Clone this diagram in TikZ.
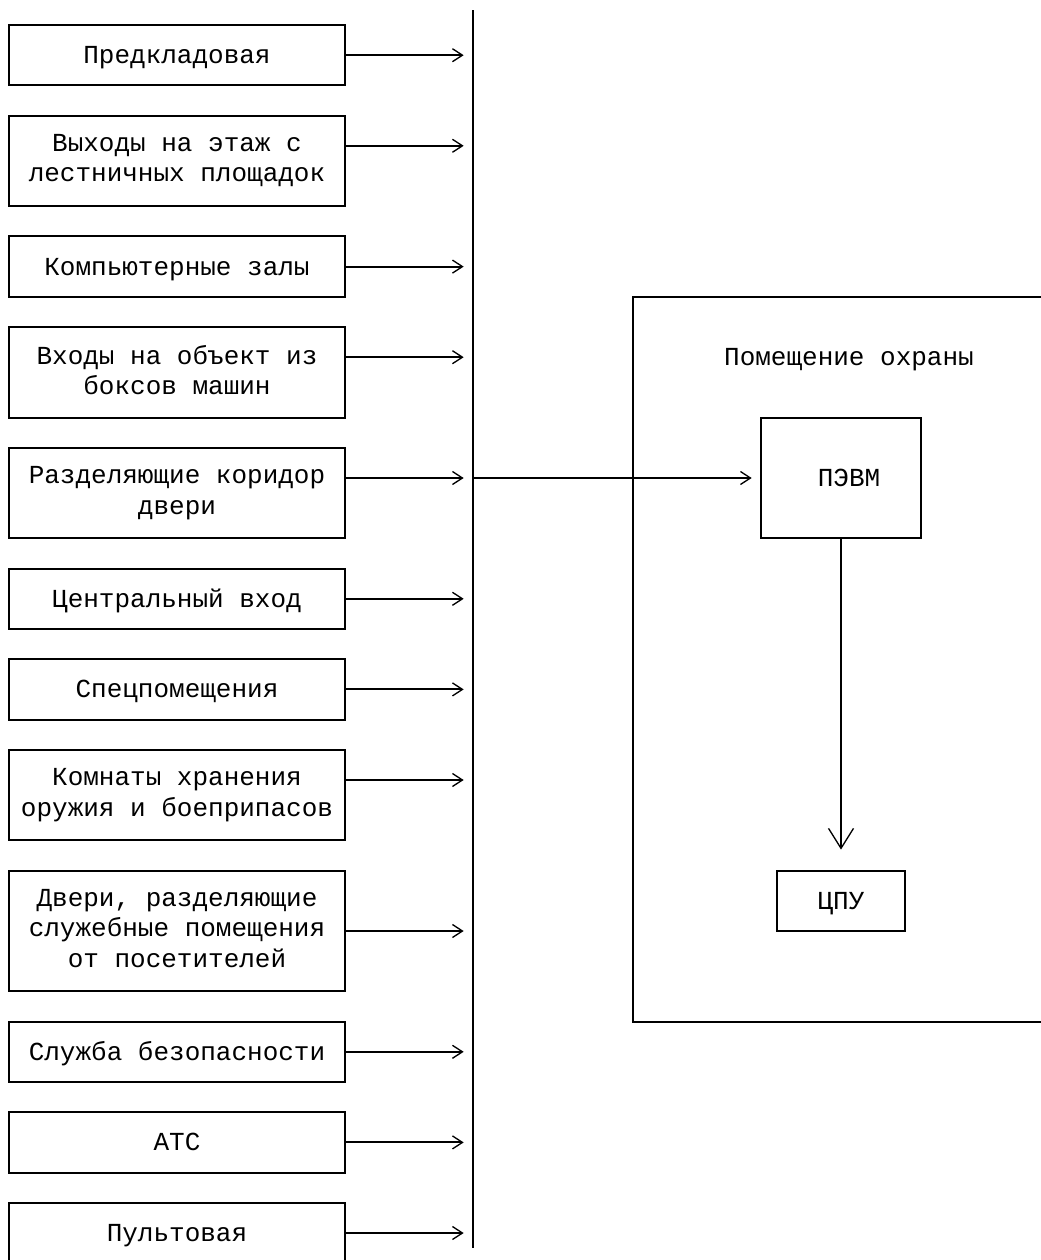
\documentclass[tikz,border=0pt]{standalone}
\usepackage{fontspec}
\setmonofont{Liberation Mono}
\usetikzlibrary{arrows.meta}
\newcommand{\rowstrut}{\rule[-4pt]{0pt}{20.8pt}}

\begin{document}
\begin{tikzpicture}[x=0.75pt, y=-0.75pt, line width=1.5pt,
        mono/.style={font=\ttfamily\fontsize{19.5pt}{22.65pt}\selectfont},
        feed/.style={-{Straight Barb[length=7.5pt, width=9.75pt, line width=1pt]}, shorten >=7pt},
        down/.style={-{Straight Barb[length=15pt, width=18.75pt, line width=1pt]}, shorten >=15.75pt}]
        \clip (0, 0) rectangle (1041, 1260);
        \fill[white] (0, 0) rectangle (1041, 1260);

        % rooms on the left, one box each
        \begin{scope}[every node/.style={mono, draw, line width=1.5pt, inner sep=0pt, outer sep=0pt,
                      align=center, minimum width=252pt, minimum height=45.3pt,
                      execute at begin node=\rowstrut, execute at end node=\rowstrut}]
            \node (P1) at (177, 55.2) {Предкладовая};
            \node (P2) [minimum height=67.95pt] at (177, 160.9) {Выходы на этаж с\\лестничных площадок};
            \node (P3) at (177, 266.6) {Компьютерные залы};
            \node (P4) [minimum height=67.95pt] at (177, 372.3) {Входы на объект из\\боксов машин};
            \node (P5) [minimum height=67.95pt] at (177, 493.1) {Разделяющие коридор\\двери};
            \node (P6) at (177, 598.8) {Центральный вход};
            \node (P7) at (177, 689.4) {Спецпомещения};
            \node (P8) [minimum height=67.95pt] at (177, 795.1) {Комнаты хранения\\оружия и боеприпасов};
            \node (P9) [minimum height=90.6pt] at (177, 931) {Двери, разделяющие\\служебные помещения\\от посетителей};
            \node (P10) at (177, 1051.8) {Служба безопасности};
            \node (P11) at (177, 1142.4) {АТС};
            \node (P12) at (177, 1233) {Пультовая};
            \node (PC) [minimum width=120pt, minimum height=90.6pt] at (841, 478) {\hspace*{12pt}ПЭВМ};
            \node (CPU) [minimum width=96pt] at (841, 900.8) {ЦПУ};
        \end{scope}

        % guard room
        \draw (1050, 296.8) -- (633, 296.8) -- (633, 1021.6) -- (1050, 1021.6);
        \node[mono, execute at begin node=\rowstrut] (room) at (849, 357.2) {Помещение охраны};

        % common line
        \coordinate (BT) at (473, 10);
        \coordinate (BB) at (473, 1248);
        \draw (BT) -- (BB);

        \begin{scope}[every edge/.style={draw, line width=1.5pt, feed}]
            \foreach \n in {1,3,6,7,9,10,11,12}
                \path (P\n.east) edge (P\n.east -| BT);
            \foreach \n in {2,4,5,8}
                \path ([yshift=11.33pt]P\n.east) edge ([yshift=11.33pt]P\n.east -| BT);
            \path (PC.west -| BT) edge (PC.west);
            \path (PC) edge[down] (CPU);
        \end{scope}
    \end{tikzpicture}
\end{document}
